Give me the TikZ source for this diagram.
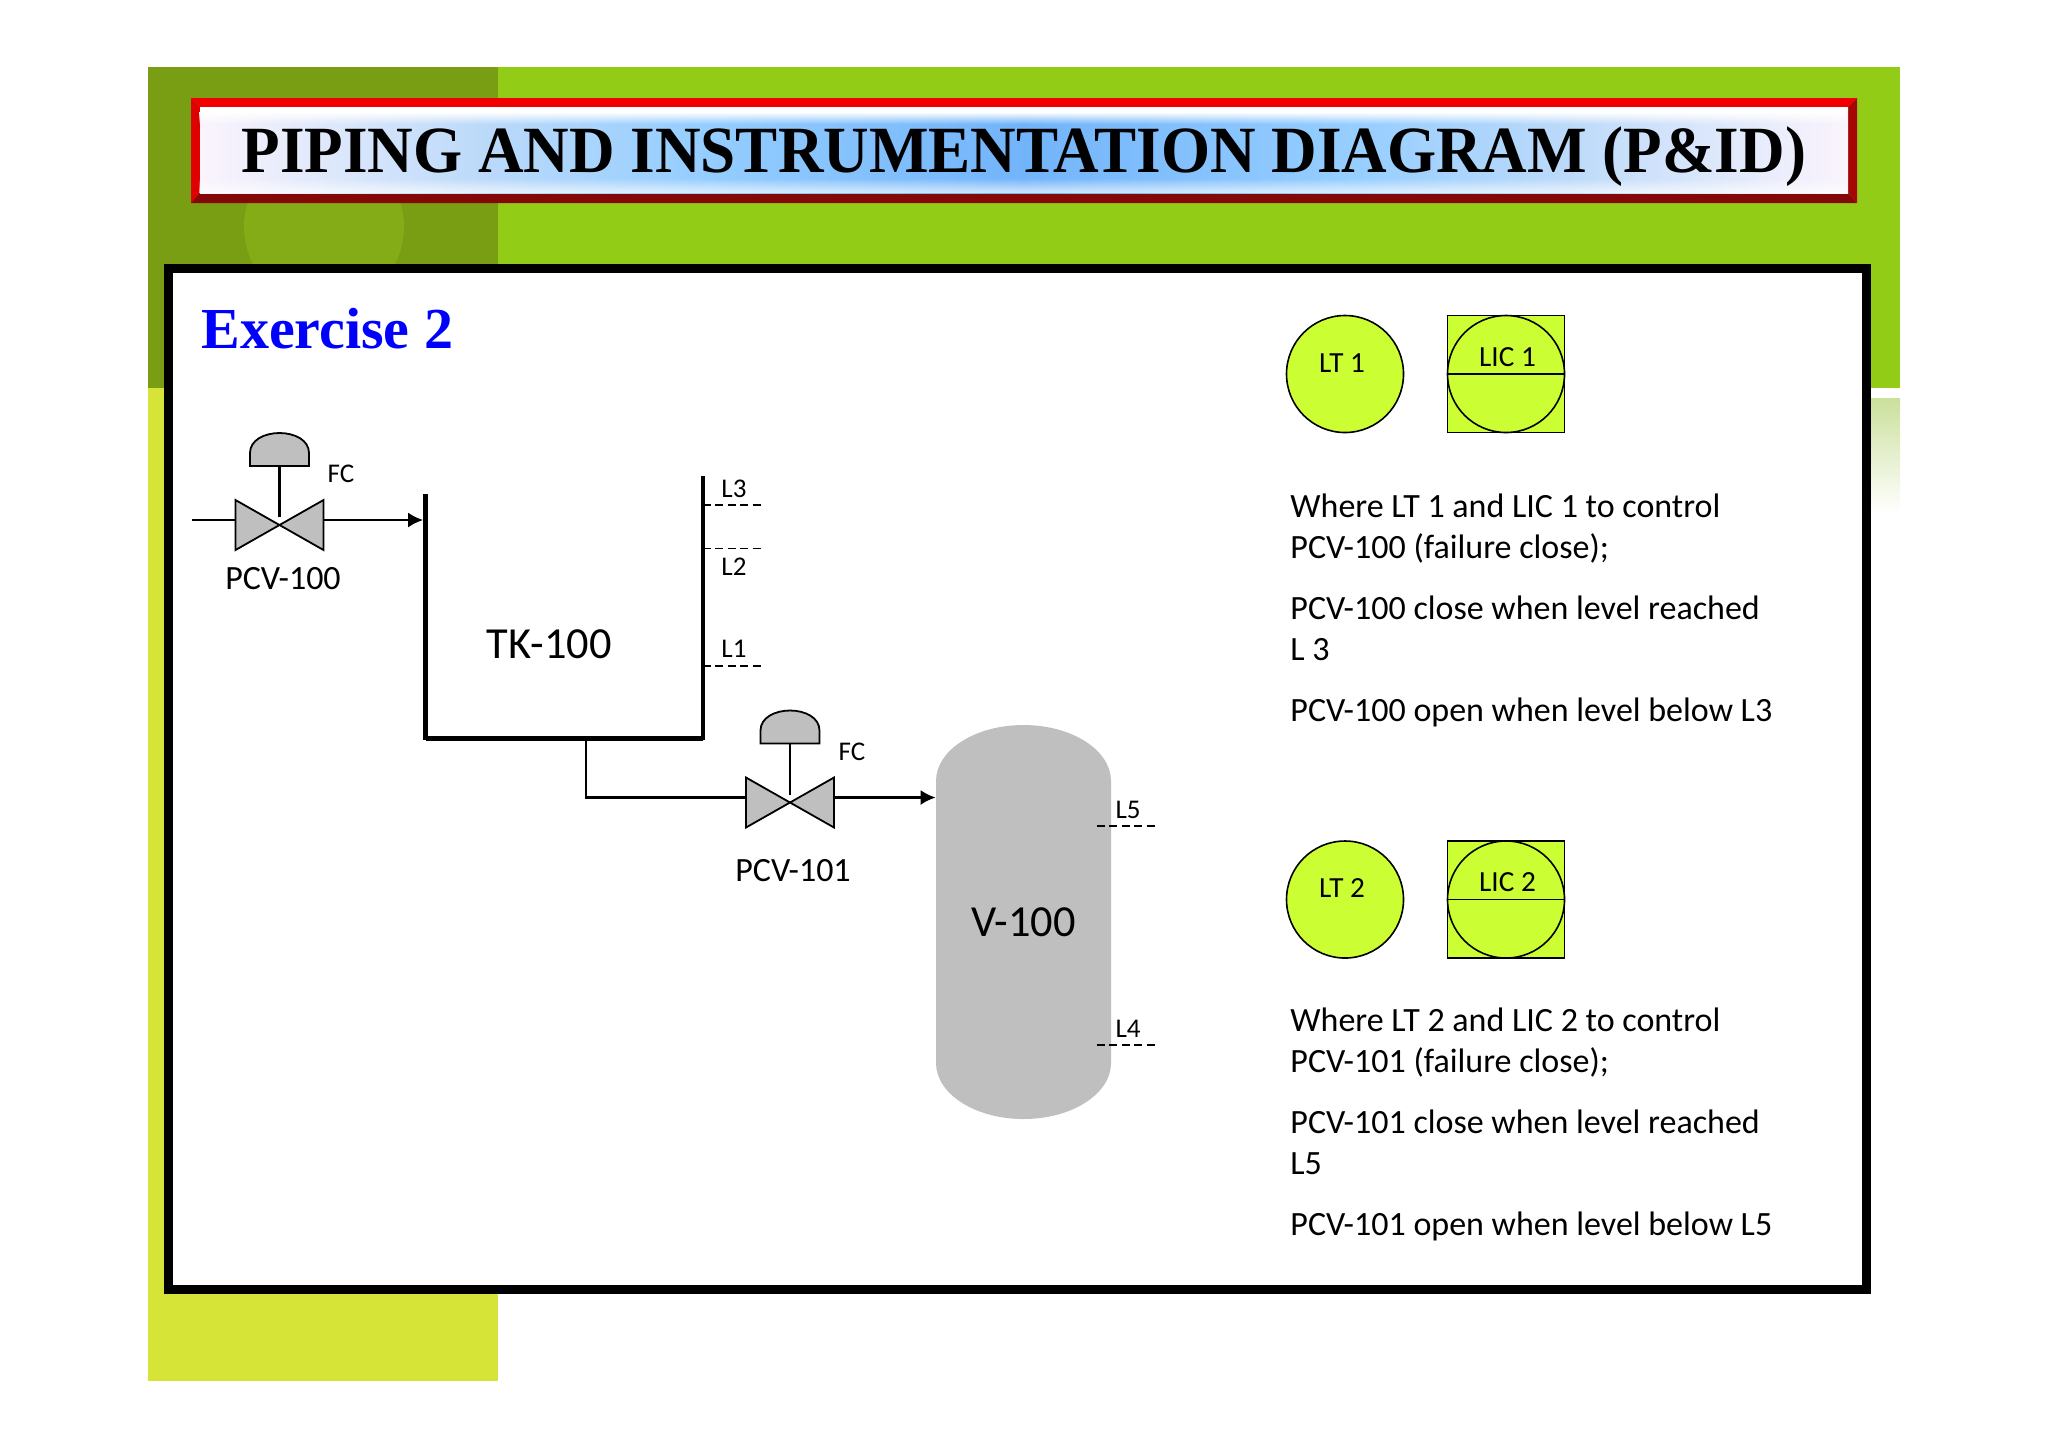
\documentclass[tikz,border=0pt]{standalone}
\usepackage{fontspec}
\setmainfont{Carlito}
\newfontfamily\headfont{Liberation Serif}
\usetikzlibrary{positioning,fadings,arrows.meta}
\definecolor{slidedark}{HTML}{7A9E13}
\definecolor{slidecirc}{HTML}{84AC16}
\definecolor{slidegreen}{HTML}{92CC16}
\definecolor{slideyellow}{HTML}{D5E436}
\definecolor{stripgreen}{HTML}{CBE09C}
\definecolor{limefill}{HTML}{CCFF33}
\definecolor{vesselgray}{HTML}{BFBFBF}
\definecolor{bannerred}{HTML}{F20000}
\definecolor{bannerdark}{HTML}{850808}
\definecolor{bannerend}{HTML}{FBF4FC}
\definecolor{bannerpale}{HTML}{BCDAFA}
\definecolor{bannersky}{HTML}{96CEFF}
\definecolor{bannerblue}{HTML}{72B4FA}
\pgfdeclarehorizontalshading{bannershade}{100bp}{
  color(0bp)=(bannerend); color(25bp)=(bannerend); color(33.5bp)=(bannerpale);
  color(40bp)=(bannersky); color(50bp)=(bannerblue); color(60bp)=(bannersky);
  color(66.5bp)=(bannerpale); color(75bp)=(bannerend); color(100bp)=(bannerend)}
\tikzset{
  cvalve/.pic={
    \draw[fill=vesselgray,line width=0.9pt] (-44,-25) -- (44,25) -- (44,-25) -- (-44,25) -- cycle;
    \draw[line width=0.9pt,fill=vesselgray] (-29.5,-59) -- (-29.5,-72) .. controls (-29.5,-85) and (-15,-92) .. (0,-92) .. controls (15,-92) and (29.5,-85) .. (29.5,-72) -- (29.5,-59) -- cycle;
    \draw[line width=1.1pt] (0,-59) -- (0,-8);
    \coordinate (-in) at (-44,-5);
    \coordinate (-out) at (44,-5);
  }
}
\begin{document}
\begin{tikzpicture}[
    x=0.5pt,y=-0.5pt,
    pipe/.style={line width=1.1pt},
    feed/.style={line width=1.1pt,-{Latex[length=7.5pt,width=7.5pt]}},
    wall/.style={line width=2.2pt,line join=miter},
    levelmark/.style={line width=0.75pt,dash pattern=on 4pt off 2.2pt},
    txt/.style={anchor=base west,inner sep=0pt,font=\fontsize{17}{20}\selectfont},
    tag/.style={inner sep=0pt,font=\fontsize{17}{20}\selectfont},
    small/.style={inner sep=0pt,font=\fontsize{13.5}{16}\selectfont},
    itag/.style={inner sep=0pt,font=\fontsize{14.6}{17}\selectfont},
    big/.style={inner sep=0pt,font=\fontsize{22.2}{26}\selectfont},
    instr/.style={draw,circle,fill=limefill,line width=0.8pt,minimum size=58.5pt,inner sep=0pt},
    panel/.style={draw,rectangle,fill=limefill,line width=0.8pt,minimum size=58.5pt,inner sep=0pt}
  ]
  \useasboundingbox (0,0) rectangle (2048,1448);
  % slide background
  \fill[slidedark] (148,67) rectangle (498,388);
  \fill[slidegreen] (498,67) rectangle (1900,388);
  \begin{scope}
    \clip (148,67) rectangle (498,388);
    \fill[slidecirc] (324,227) circle[radius=80];
  \end{scope}
  \fill[slideyellow] (148,388) rectangle (498,1381);
  \shade[top color=stripgreen,bottom color=white] (1862,398) rectangle (1900,513);
  % title banner
  \fill[bannerred] (191,98) -- (1857,98) -- (1848,107) -- (200,107) -- cycle;
  \fill[bannerred!92!black] (191,98) -- (200,107) -- (200,193) -- (191,203) -- cycle;
  \fill[bannerdark] (191,203) -- (200,193) -- (1848,193) -- (1857,203) -- cycle;
  \fill[bannerdark!70!bannerred] (1857,98) -- (1848,107) -- (1848,193) -- (1857,203) -- cycle;
  \shade[shading=bannershade] (200,107) rectangle (1848,193);
  \fill[white] (200,107) rectangle (1848,112);
  \fill[white,path fading=south] (200,112) rectangle (1848,124);
  \fill[white,fill opacity=0.7,path fading=north] (200,178) rectangle (1848,193);
  \node[anchor=base,inner sep=0pt,font=\headfont\bfseries\fontsize{33}{38}\selectfont] (title) at (1024,172) {\scalebox{0.956}[1]{PIPING AND INSTRUMENTATION DIAGRAM (P\&ID)}};
  % main frame
  \draw[line width=4.4pt,fill=white] (168.5,268.5) rectangle (1866.5,1289.5);
  \node[anchor=base west,inner sep=0pt,text=blue,font=\headfont\bfseries\fontsize{29}{33}\selectfont] (exercise) at (201,348.5) {Exercise 2};

  % tank
  \coordinate (tktl) at (425.5,494);
  \coordinate (tkbl) at (425.5,738);
  \coordinate (tkbr) at (703,738);
  \coordinate (tktr) at (703,476);
  \coordinate (tkout) at (586,738);
  \draw[wall] (tktl) -- (tkbl) -- (tkbr) -- (tktr);
  \draw[line width=2.5pt] (tkbl) -- (tkbr);
  \node[big] (tk100) at (549,644) {TK-100};

  % vessel
  \fill[vesselgray] (936,781) arc[start angle=180,end angle=360,x radius=87.5,y radius=56] -- (1111,1063) arc[start angle=0,end angle=180,x radius=87.5,y radius=56] -- cycle;
  \node[big,minimum width=87.5pt,minimum height=197pt] (v100) at (1023.5,922.5) {V-100};

  % valves and pipes
  \pic (pcv100) at (279.5,525) {cvalve};
  \pic (pcv101) at (790,802.5) {cvalve};
  \coordinate (feedin) at (191.5,520);
  \draw[pipe] (feedin) -- (pcv100-in);
  \draw[feed,shorten >=1.2pt] (pcv100-out) -- (pcv100-out -| tktl);
  \draw[pipe] (tkout) |- (pcv101-in);
  \draw[feed] (pcv101-out) -- (pcv101-out -| v100.west);
  \node[tag] (pcv100lab) at (283,579) {PCV-100};
  \node[tag] (pcv101lab) at (793,871) {PCV-101};
  \node[small] (fc100) at (341,474) {FC};
  \node[small] (fc101) at (852,752) {FC};

  % level marks
  \draw[levelmark] (703,505) -- (761,505);
  \draw[levelmark] (703,548.5) -- (761,548.5);
  \draw[levelmark] (703,666) -- (761,666);
  \draw[levelmark] (1097,826) -- (1155,826);
  \draw[levelmark] (1097,1045) -- (1155,1045);
  \node[small] (l3) at (734,489) {L3};
  \node[small] (l2) at (734,567) {L2};
  \node[small] (l1) at (734,649) {L1};
  \node[small] (l5) at (1128,810) {L5};
  \node[small] (l4) at (1128,1029) {L4};

  % instruments
  \node[instr] (lt1) at (1345,374) {};
  \node[panel] (lic1box) at (1506,374) {};
  \node[instr] (lic1) at (1506,374) {};
  \draw[line width=0.9pt] (lic1.west) -- (lic1.east);
  \node[itag] (lt1lab) at (1342,363.5) {LT 1};
  \node[itag] (lic1lab) at (1507.5,357.5) {LIC 1};
  \node[instr] (lt2) at (1345,899.5) {};
  \node[panel] (lic2box) at (1506,899.5) {};
  \node[instr] (lic2) at (1506,899.5) {};
  \draw[line width=0.9pt] (lic2.west) -- (lic2.east);
  \node[itag] (lt2lab) at (1342,888.5) {LT 2};
  \node[itag] (lic2lab) at (1507.5,882.5) {LIC 2};

  % notes
  \node[txt] (n1) at (1290,517) {Where LT 1 and LIC 1 to control};
  \node[txt] (n2) at (1290,558) {PCV-100 (failure close);};
  \node[txt] (n3) at (1290,619) {PCV-100 close when level reached};
  \node[txt] (n4) at (1290,660) {L 3};
  \node[txt] (n5) at (1290,721.5) {PCV-100 open when level below L3};
  \node[txt] (m1) at (1290,1031) {Where LT 2 and LIC 2 to control};
  \node[txt] (m2) at (1290,1072) {PCV-101 (failure close);};
  \node[txt] (m3) at (1290,1133) {PCV-101 close when level reached};
  \node[txt] (m4) at (1290,1174) {L5};
  \node[txt] (m5) at (1290,1235.5) {PCV-101 open when level below L5};
\end{tikzpicture}
\end{document}
